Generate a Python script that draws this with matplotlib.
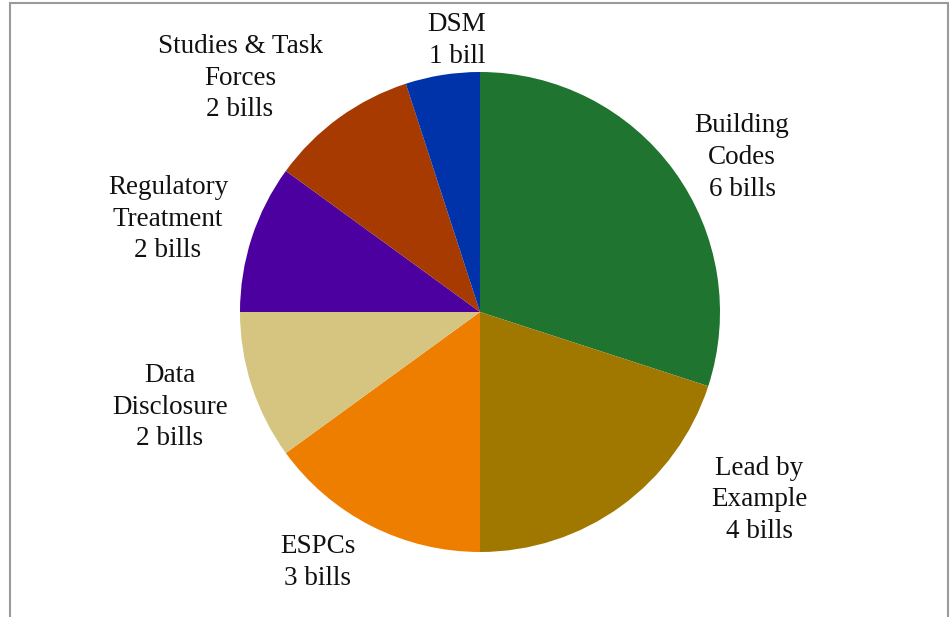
import matplotlib.pyplot as plt
from matplotlib.patches import Rectangle

# bills per policy category, clockwise from 12 o'clock
categories = ["Building\nCodes", "Lead by\nExample", "ESPCs", "Data\nDisclosure",
              "Regulatory\nTreatment", "Studies & Task\nForces", "DSM"]
bills = [6, 4, 3, 2, 2, 2, 1]
colors = ["#1f7430", "#a07800", "#ee7e00", "#d6c580", "#4c00a0", "#a63a00", "#0033aa"]

# label centres in pie radius units (placed outside the wedges, like the original)
label_pos = [(1.092, 0.645), (1.165, -0.783), (-0.675, -1.044), (-1.292, -0.396),
             (-1.30, 0.3875), (-1.0, 0.975), (-0.096, 1.133)]

fig = plt.figure(figsize=(9.52, 6.17), dpi=100)
ax = fig.add_axes([0, 0, 1, 1])

wedges, _ = ax.pie(bills, colors=colors, startangle=90, counterclock=False,
                   radius=1.0, wedgeprops=dict(linewidth=0))

for cat, n, (x, y) in zip(categories, bills, label_pos):
    unit = "bill" if n == 1 else "bills"
    ax.text(x, y, f"{cat}\n{n} {unit}", ha="center", va="center",
            fontsize=19.5, family="Liberation Serif", linespacing=1.36, color="#111111")

ax.set_xlim(-2.0, 952 / 240 - 2.0)
ax.set_ylim(-305 / 240, 312 / 240)
ax.set_aspect("equal")
ax.axis("off")

# chart frame (bottom edge is cut off in the original)
fig.patches.append(Rectangle((10 / 952, -0.05), 938 / 952, 1.05 - 3 / 617,
                             transform=fig.transFigure, fill=False,
                             edgecolor="#9a9a9a", linewidth=1.5))

fig.savefig("out.png", dpi=100)
